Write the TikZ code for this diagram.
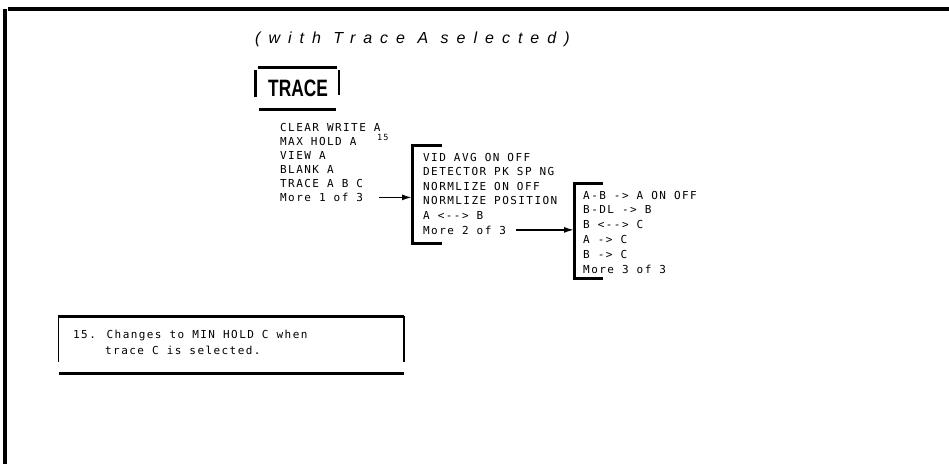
\documentclass[tikz,border=0pt]{standalone}
\usepackage{fontspec}
\setmainfont{Liberation Sans}
\newfontfamily\menufont[LetterSpace=13]{DejaVu Sans Mono}
\newfontfamily\titlefont[LetterSpace=50]{Liberation Sans}
\newfontfamily\keyfont[FakeStretch=0.73]{Liberation Sans}
\usetikzlibrary{arrows.meta,positioning}

\begin{document}
\begin{tikzpicture}[
  x=1pt,y=-1pt,
  item/.style={anchor=base west,inner sep=0pt,font=\menufont\fontsize{11}{13}\selectfont},
  rule/.style={line width=3pt},
  arrow/.style={-{Latex[length=10pt,width=6pt]},line width=1.5pt}
]
\useasboundingbox (0,0) rectangle (949,464);
\draw[line width=4pt] (8,9) -- (949,9);
\draw[line width=4pt] (5,9) -- (5,464);
\node[anchor=base west,inner sep=0pt,font=\titlefont\itshape\fontsize{16}{19}\selectfont] (title) at (255,43) {(with Trace A selected)};
\node[inner sep=0pt,font=\keyfont\bfseries\fontsize{23.7}{26}\selectfont] (key) at (298,88.5) {TRACE};
\draw[rule] (258,67) -- (337,67);
\draw[rule] (255,70) -- (255,97);
\draw[line width=2.5pt] (339,70) -- (339,95);
\draw[rule] (259,109) -- (336,109);
\foreach \txt [count=\i] in {CLEAR WRITE A,MAX HOLD A,VIEW A,BLANK A,TRACE A B C,More 1 of 3}
  \node[item] (menuA\i) at (280,117.5+14*\i) {\txt};
\node[item,font=\menufont\fontsize{8.5}{10}\selectfont] (mark) at (377,140) {15};
\foreach \txt [count=\i] in {VID AVG ON OFF,DETECTOR PK SP NG,NORMLIZE ON OFF,NORMLIZE POSITION,A <-{}-> B,More 2 of 3}
  \node[item] (menuB\i) at (423,146.4+14.6*\i) {\txt};
\foreach \txt [count=\i] in {A-B -> A ON OFF,B-DL -> B,B <-{}-> C,A -> C,B -> C,More 3 of 3}
  \node[item] (menuC\i) at (583,184.2+14.8*\i) {\txt};
\coordinate (inB) at (412,145);
\coordinate (inC) at (574,183);
\draw[rule] (442,145) -- (inB) -- (412,243) -- (442,243);
\draw[rule] (603,183) -- (inC) -- (574,278) -- (603,278);
\draw[arrow] ([xshift=16pt]menuA6.east) -- (menuA6.east -| inB);
\draw[arrow] ([xshift=10pt]menuB6.east) -- (menuB6.east -| inC);
\node[item] (note1) at (73,338) {15. Changes to MIN HOLD C when};
\node[item] (note2) at (105,354) {trace C is selected.};
\draw[rule] (58,316) -- (404,316);
\draw[line width=1pt] (58,316) -- (58,362);
\draw[line width=2pt] (404,316) -- (404,362);
\draw[rule] (59,373) -- (404,373);
\end{tikzpicture}
\end{document}
